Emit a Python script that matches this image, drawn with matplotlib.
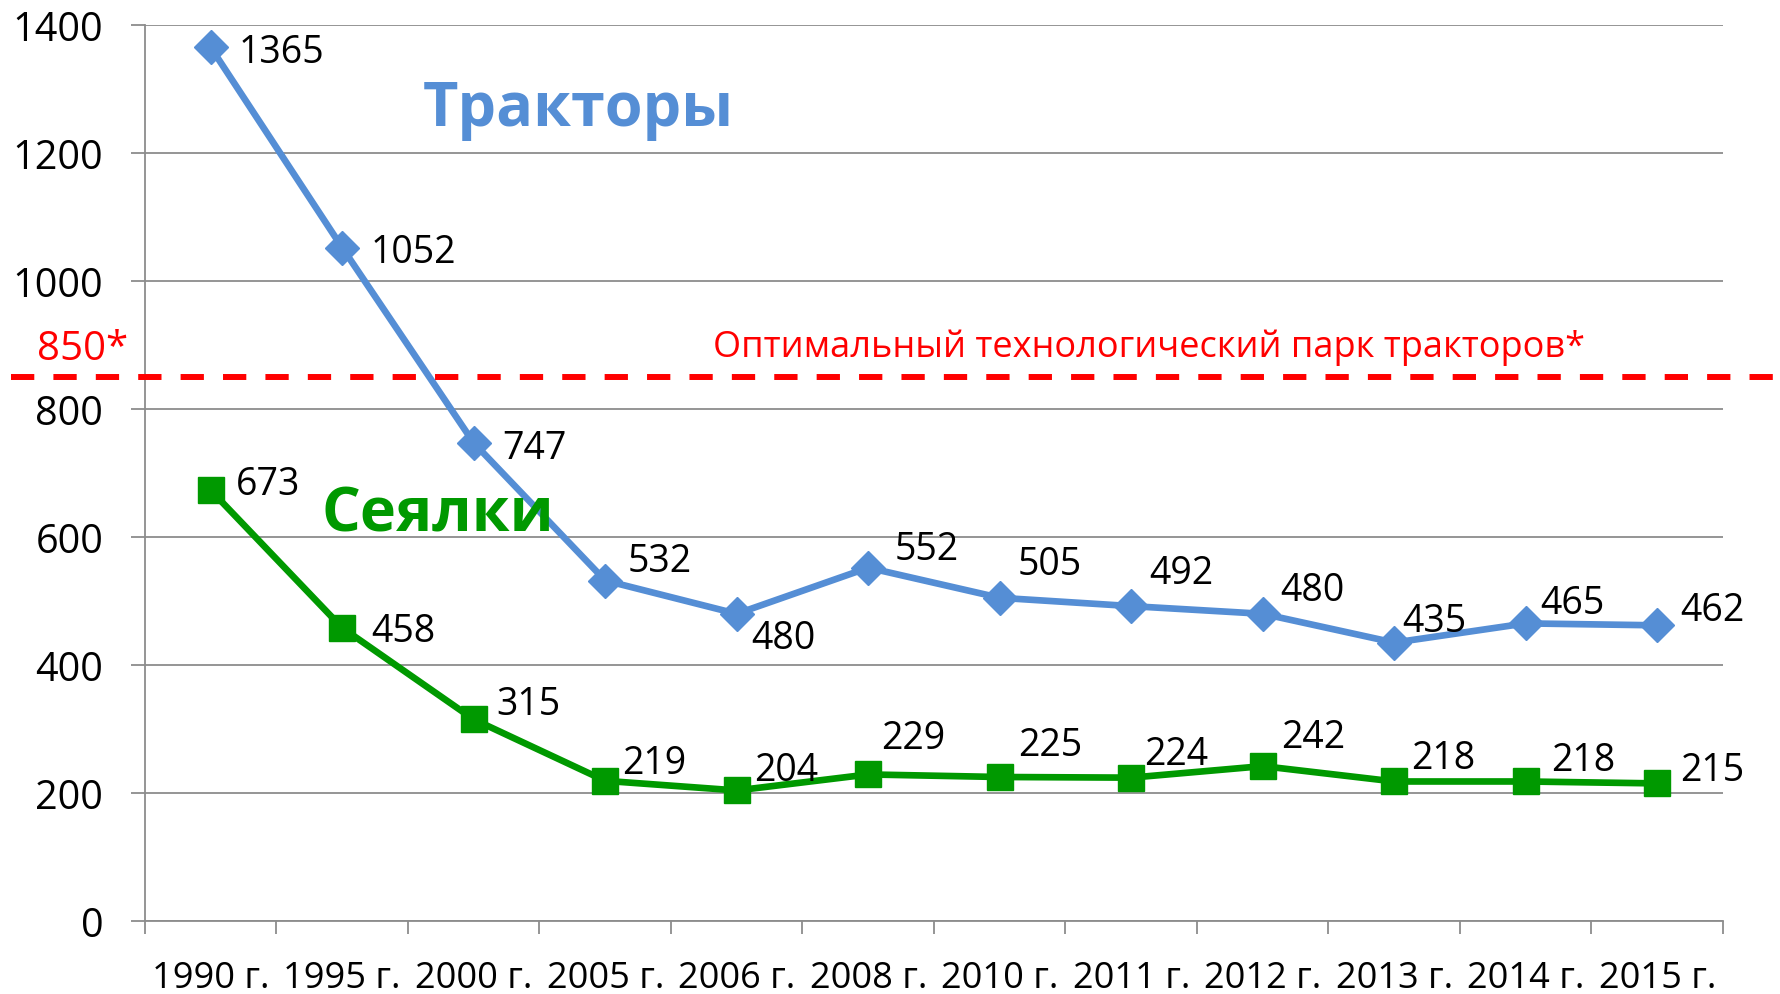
import matplotlib
matplotlib.use("Agg")
import matplotlib.pyplot as plt
import matplotlib.transforms as mtransforms
from matplotlib.lines import Line2D

plt.rcParams['font.family'] = ['Open Sans', 'DejaVu Sans']

# ---- data ----
years = ["1990 г.", "1995 г.", "2000 г.", "2005 г.", "2006 г.", "2008 г.",
         "2010 г.", "2011 г.", "2012 г.", "2013 г.", "2014 г.", "2015 г."]
tractors = [1365, 1052, 747, 532, 480, 552, 505, 492, 480, 435, 465, 462]
seeders = [673, 458, 315, 219, 204, 229, 225, 224, 242, 218, 218, 215]
optimum = 850
optimum_label = "850*"
optimum_text = "Оптимальный технологический парк тракторов*"
tractor_name = "Тракторы"
seeder_name = "Сеялки"

# ---- layout (label offsets in pixels, image coords: +dy = down) ----
tr_off = [(71, 1), (71, 0), (61, 1), (54, -24), (47, 20), (58, -23),
          (50, -38), (50, -37), (50, -28), (40, -26), (47, -24), (55, -19)]
se_off = [(57, -10), (61, -1), (55, -19), (49, -22), (49, -24), (45, -40),
          (50, -36), (45, -28), (50, -33), (49, -27), (58, -25), (55, -17)]
LABEL_SHIFT = 4  # px down, compensates descent in va='center'

W, H = 1781, 995
DPI = 100
BLUE = "#558ED5"
GREEN = "#009900"
RED = "#FF0000"
GRID = "#8C8C8C"

fig = plt.figure(figsize=(W / DPI, H / DPI), dpi=DPI)
ax_l, ax_r, ax_t, ax_b = 145, 1723, 26, 922
ax = fig.add_axes([ax_l / W, 1 - ax_b / H, (ax_r - ax_l) / W, (ax_b - ax_t) / H])

n = len(years)
xs = list(range(n))

ax.plot(xs, tractors, color=BLUE, lw=4.8, marker='D', markersize=17,
        solid_joinstyle='round', zorder=4)
ax.plot(xs, seeders, color=GREEN, lw=4.8, marker='s', markersize=18.5,
        solid_joinstyle='round', zorder=4)

ax.set_xlim(-0.5, n - 0.5)
ax.set_ylim(0, 1400)
ax.set_yticks(range(0, 1401, 200))
ax.yaxis.grid(True, color=GRID, lw=1.3)
ax.set_axisbelow(True)

ax.set_xticks([i - 0.5 for i in range(n + 1)])
ax.set_xticklabels([])
ax.set_xticks(xs, minor=True)
ax.set_xticklabels(years, minor=True)
ax.tick_params(axis='x', which='major', length=9, width=1.3, color=GRID, direction='out')
ax.tick_params(axis='x', which='minor', length=0, pad=28, labelsize=26)
ax.tick_params(axis='y', which='major', length=10, width=1.3, color=GRID,
               direction='out', pad=20, labelsize=28.5)

for s in ['top', 'right']:
    ax.spines[s].set_visible(False)
for s in ['left', 'bottom']:
    ax.spines[s].set_color(GRID)
    ax.spines[s].set_linewidth(1.3)

# data labels
for x, v, (dx, dy) in zip(xs, tractors, tr_off):
    ax.annotate(str(v), (x, v), xytext=(dx, -(dy + LABEL_SHIFT)), textcoords='offset pixels',
                ha='center', va='center', fontsize=27, color='black', zorder=5)
for x, v, (dx, dy) in zip(xs, seeders, se_off):
    ax.annotate(str(v), (x, v), xytext=(dx, -(dy + LABEL_SHIFT)), textcoords='offset pixels',
                ha='center', va='center', fontsize=27, color='black', zorder=5)

# optimum dashed line across the whole figure
trans = mtransforms.blended_transform_factory(fig.transFigure, ax.transData)
ln = Line2D([11 / W, 1.0], [optimum, optimum], transform=trans, color=RED,
            lw=4.3, dashes=(3.9, 3.2), dash_capstyle='butt', clip_on=False, zorder=6)
fig.add_artist(ln)


def px(x, y):
    return x / W, 1 - y / H


fig.text(*px(128, 360), optimum_label, color=RED, fontsize=29, ha='right', va='baseline')
fig.text(*px(713, 357), optimum_text, color=RED, fontsize=26, ha='left', va='baseline')
fig.text(*px(423, 126), tractor_name, color=BLUE, fontsize=44, fontweight='bold',
         ha='left', va='baseline')
fig.text(*px(322, 531), seeder_name, color=GREEN, fontsize=44, fontweight='bold',
         ha='left', va='baseline')

fig.savefig("out.png", dpi=DPI)
